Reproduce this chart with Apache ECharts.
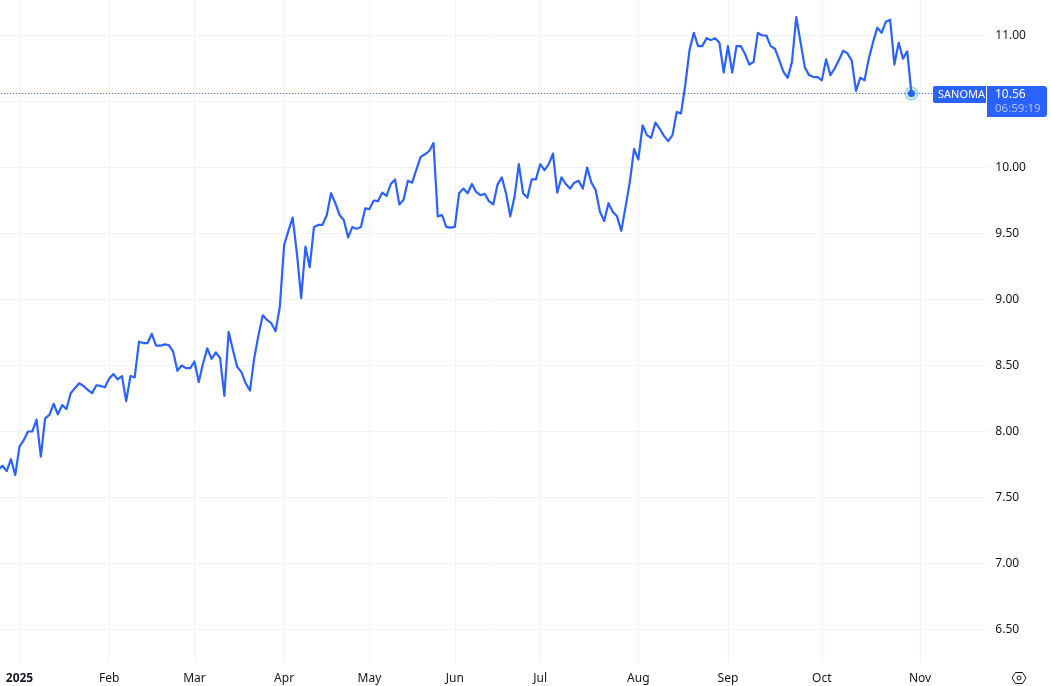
<!DOCTYPE html>
<html>
<head>
<meta charset="utf-8">
<title>SANOMA</title>
<script src="https://cdn.jsdelivr.net/npm/echarts@6/dist/echarts.min.js"></script>
<style>
  html, body { margin: 0; padding: 0; background: #fff; overflow: hidden; }
  #chart { width: 1051px; height: 686px; }
</style>
</head>
<body>
<div id="chart"></div>
<script>
// daily closes, starting five sessions before the 2025 label
const closes = [
  7.71, 7.74, 7.70, 7.79, 7.67, 7.885, 7.935, 8.00, 8.00, 8.09, 7.81, 8.10, 8.125, 8.21, 8.13, 8.20,
  8.17, 8.29, 8.33, 8.365, 8.345, 8.315, 8.29, 8.35, 8.345, 8.335, 8.40, 8.435, 8.395, 8.42, 8.23, 8.42,
  8.41, 8.68, 8.67, 8.67, 8.74, 8.65, 8.65, 8.66, 8.655, 8.605, 8.46, 8.50, 8.48, 8.48, 8.53, 8.375,
  8.515, 8.63, 8.55, 8.60, 8.555, 8.27, 8.755, 8.62, 8.49, 8.45, 8.365, 8.31, 8.555, 8.73, 8.88, 8.845,
  8.82, 8.76, 8.945, 9.41, 9.52, 9.62, 9.35, 9.01, 9.40, 9.245, 9.55, 9.565, 9.565, 9.64, 9.805, 9.73,
  9.64, 9.60, 9.47, 9.55, 9.535, 9.55, 9.69, 9.685, 9.75, 9.745, 9.81, 9.785, 9.875, 9.91, 9.72, 9.755,
  9.90, 9.885, 9.985, 10.08, 10.10, 10.125, 10.185, 9.63, 9.64, 9.55, 9.545, 9.55, 9.805, 9.84, 9.805, 9.875,
  9.815, 9.79, 9.80, 9.745, 9.72, 9.87, 9.925, 9.805, 9.63, 9.78, 10.025, 9.805, 9.77, 9.91, 9.91, 10.025,
  9.98, 10.025, 10.105, 9.81, 9.925, 9.875, 9.84, 9.885, 9.90, 9.84, 10.00, 9.885, 9.83, 9.665, 9.595, 9.73,
  9.665, 9.63, 9.52, 9.70, 9.89, 10.14, 10.06, 10.32, 10.245, 10.225, 10.34, 10.295, 10.24, 10.20, 10.245, 10.42,
  10.41, 10.625, 10.89, 11.02, 10.92, 10.92, 10.98, 10.965, 10.98, 10.945, 10.72, 10.92, 10.72, 10.92, 10.92, 10.86,
  10.78, 10.80, 11.02, 11.00, 11.00, 10.92, 10.90, 10.815, 10.725, 10.68, 10.80, 11.14, 10.95, 10.76, 10.70, 10.685,
  10.685, 10.66, 10.82, 10.70, 10.75, 10.815, 10.885, 10.865, 10.81, 10.58, 10.68, 10.66, 10.825, 10.95, 11.06, 11.02,
  11.105, 11.12, 10.78, 10.945, 10.825, 10.88, 10.56
]
const monthLabels = ['2025', 'Feb', 'Mar', 'Apr', 'May', 'Jun', 'Jul', 'Aug', 'Sep', 'Oct', 'Nov']
const monthSessions = [21, 20, 21, 20, 20, 20, 23, 21, 22, 23]
const leadSessions = 5
const totalSlots = 233
const priceTicks = [6.5, 7, 7.5, 8, 8.5, 9, 9.5, 10, 10.5, 11]
const symbolName = 'SANOMA'
const countdown = '06:59:19'

const BLUE = '#2962ff'
const GRID = '#f0f3fa'
const TEXT = '#131722'
const FONT = '"Noto Sans", sans-serif'

// slot index -> month label
const monthAt = {}
let slot = leadSessions
monthLabels.forEach((m, i) => {
  monthAt[slot] = m
  slot += monthSessions[i] || 0
})
const slots = Array.from({ length: totalSlots }, (_, i) => String(i))
const isMonth = index => monthAt[index] !== undefined

const lastIndex = closes.length - 1
const lastClose = closes[lastIndex]

const chart = echarts.init(document.getElementById('chart'), null, { renderer: 'canvas' })

chart.setOption({
  animation: false,
  backgroundColor: '#fff',
  textStyle: { fontFamily: FONT },
  // the first sessions start just off the left edge
  grid: { left: -1.84, right: 62.7, top: 0, bottom: 23, containLabel: false, outerBoundsMode: 'none' },
  xAxis: {
    type: 'category',
    data: slots,
    boundaryGap: false,
    axisLine: { show: false },
    axisTick: { show: false },
    splitLine: { show: true, interval: isMonth, lineStyle: { color: GRID, width: 1 } },
    axisLabel: {
      interval: isMonth,
      margin: 10,
      color: TEXT,
      fontSize: 12,
      fontFamily: FONT,
      hideOverlap: false,
      formatter: v => {
        const m = monthAt[v]
        return m === '2025' ? '{year|' + m + '}' : m
      },
      rich: { year: { fontWeight: 'bold', fontSize: 12, color: TEXT, fontFamily: FONT } }
    }
  },
  yAxis: {
    type: 'value',
    position: 'right',
    min: 6.246,
    max: 11.269,
    axisLine: { show: false },
    axisTick: { show: false, customValues: priceTicks },
    splitLine: { show: true, lineStyle: { color: GRID, width: 1 } },
    axisLabel: {
      customValues: priceTicks,
      margin: 7,
      padding: [2, 0, 0, 0],
      color: TEXT,
      fontSize: 12,
      fontFamily: FONT,
      formatter: v => v.toFixed(2)
    }
  },
  series: [{
    type: 'line',
    data: closes,
    showSymbol: false,
    smooth: false,
    clip: false,
    lineStyle: { color: BLUE, width: 2.2, join: 'round' },
    markLine: {
      silent: true,
      symbol: 'none',
      label: { show: false },
      lineStyle: { color: BLUE, width: 1, type: [1, 2] },
      data: [{ yAxis: lastClose }]
    },
    markPoint: {
      silent: true,
      label: { show: false },
      data: [
        {
          coord: [lastIndex, lastClose],
          symbol: 'circle',
          symbolSize: 13,
          itemStyle: { color: 'rgba(38,166,154,0.25)', borderColor: 'rgba(38,166,154,0.45)', borderWidth: 1 }
        },
        {
          coord: [lastIndex, lastClose],
          symbol: 'circle',
          symbolSize: 7,
          itemStyle: { color: BLUE }
        }
      ]
    }
  }]
})

// price tags follow the y scale
const tagY = Math.round(chart.convertToPixel({ yAxisIndex: 0 }, lastClose))
chart.setOption({
  graphic: [
    { type: 'rect', z: 100, shape: { x: 933, y: tagY - 8, width: 53, height: 17, r: [2, 0, 0, 2] }, style: { fill: BLUE } },
    { type: 'text', z: 101, x: 938, y: tagY + 1, style: { text: symbolName, fill: '#fff', font: '11px ' + FONT, textVerticalAlign: 'middle' } },
    { type: 'rect', z: 100, shape: { x: 987, y: tagY - 8, width: 60, height: 31, r: [0, 3, 3, 0] }, style: { fill: BLUE } },
    { type: 'text', z: 101, x: 995, y: tagY + 1, style: { text: lastClose.toFixed(2), fill: '#fff', font: '12px ' + FONT, textVerticalAlign: 'middle' } },
    { type: 'text', z: 101, x: 995, y: tagY + 15, style: { text: countdown, fill: '#a9c1ff', font: '11.5px ' + FONT, textVerticalAlign: 'middle' } },
    // settings icon
    { type: 'polygon', z: 100, shape: { points: [[1012, 678], [1015.5, 672.5], [1022.5, 672.5], [1026, 678], [1022.5, 683.5], [1015.5, 683.5]] }, style: { fill: 'none', stroke: TEXT, lineWidth: 1 } },
    { type: 'circle', z: 100, shape: { cx: 1019, cy: 678, r: 2 }, style: { fill: 'none', stroke: TEXT, lineWidth: 1 } }
  ]
})
</script>
</body>
</html>
